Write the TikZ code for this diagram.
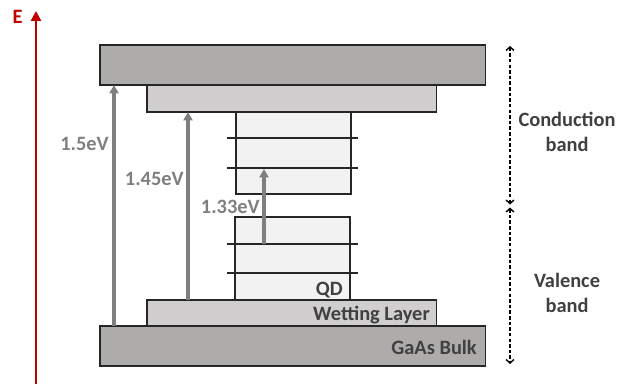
\documentclass[tikz,border=0pt]{standalone}
\usepackage{fontspec}
\setmainfont{Carlito}
\usepackage{tikz}
\usepackage{xcolor}
\usetikzlibrary{arrows.meta,positioning,calc}
\definecolor{bulkgray}{HTML}{AEABAB}
\definecolor{wetgray}{HTML}{D0CECE}
\definecolor{dotgray}{HTML}{F2F2F2}
\definecolor{arrgray}{HTML}{7F7F7F}
\definecolor{txtgray}{HTML}{404040}
\definecolor{axisred}{HTML}{C00000}

\begin{document}
\begin{tikzpicture}[x=0.025cm, y=-0.025cm,
    layer/.style={draw=black!85, line width=0.8pt, inner sep=0pt, outer sep=0pt, anchor=north west},
    level/.style={draw=black!85, line width=0.8pt},
    lbl/.style={font=\fontsize{14.5}{18}\selectfont\bfseries, inner sep=0pt},
    gap/.style={-{Triangle[width=6.5pt,length=6pt]}, line width=2.2pt, arrgray},
    span/.style={{Straight Barb[length=2.5pt,width=5.5pt]}-{Straight Barb[length=2.5pt,width=5.5pt]}, dash pattern=on 2.5pt off 1.5pt, line width=1pt}]
    \useasboundingbox (0,0) rectangle (617,387);

    % Energy axis
    \coordinate (eorigin) at (36,384);
    \coordinate (etop) at (36,11);
    \draw[-{Triangle[width=7pt,length=7pt]}, axisred, line width=2pt] (eorigin) -- (etop);
    \node[lbl, axisred, anchor=base] (elbl) at (17.5,24) {E};

    % Conduction band side
    \node[layer, fill=bulkgray, minimum width=9.625cm, minimum height=1cm] (cbulk) at (100,45) {};
    \node[layer, fill=wetgray, minimum width=7.225cm, minimum height=0.675cm] (cwet) at (147,85) {};
    \node[layer, fill=dotgray, minimum width=2.875cm, minimum height=2.05cm] (cdot) at (236,112) {};

    % Valence band side
    \node[layer, fill=dotgray, minimum width=2.875cm, minimum height=2.075cm] (vdot) at (235,217) {};
    \node[layer, fill=wetgray, minimum width=7.225cm, minimum height=0.65cm] (vwet) at (147,300) {};
    \node[layer, fill=bulkgray, minimum width=9.625cm, minimum height=1cm] (vbulk) at (100,326) {};

    % QD levels
    \foreach \y in {138,168,244,273}
        \draw[level] (227,\y) -- (358,\y);

    % Layer labels
    \node[lbl, txtgray, anchor=base east] (lqd) at (343,295) {QD};
    \node[lbl, txtgray, anchor=base east] (lwet) at (430,320) {Wetting Layer};
    \node[lbl, txtgray, anchor=base east] (lbulk) at (477,354) {GaAs Bulk};

    % Transitions
    \coordinate (x15) at (114,0);
    \coordinate (x145) at (188,0);
    \coordinate (qdlow) at (264,244);
    \coordinate (qdhigh) at (264,169);
    \draw[gap] (vbulk.north -| x15) -- (cbulk.south -| x15);
    \draw[gap] (vwet.north -| x145) -- (cwet.south -| x145);
    \draw[gap] (qdlow) -- (qdhigh);
    \node[lbl, arrgray, anchor=base east] (l15) at (109,150) {1.5eV};
    \node[lbl, arrgray, anchor=base east] (l145) at (184,185) {1.45eV};
    \node[lbl, arrgray, anchor=base east] (l133) at (260,213) {1.33eV};

    % Band extents
    \coordinate (stop) at (510,46);
    \coordinate (smida) at (510,204.5);
    \coordinate (smidb) at (510,207.5);
    \coordinate (sbot) at (510,364);
    \draw[span] (stop) -- (smida);
    \draw[span] (smidb) -- (sbot);
    \node[lbl, txtgray, align=center] (cband) at (567,132) {Conduction\\band};
    \node[lbl, txtgray, align=center] (vband) at (567,293) {Valence\\band};
\end{tikzpicture}
\end{document}
